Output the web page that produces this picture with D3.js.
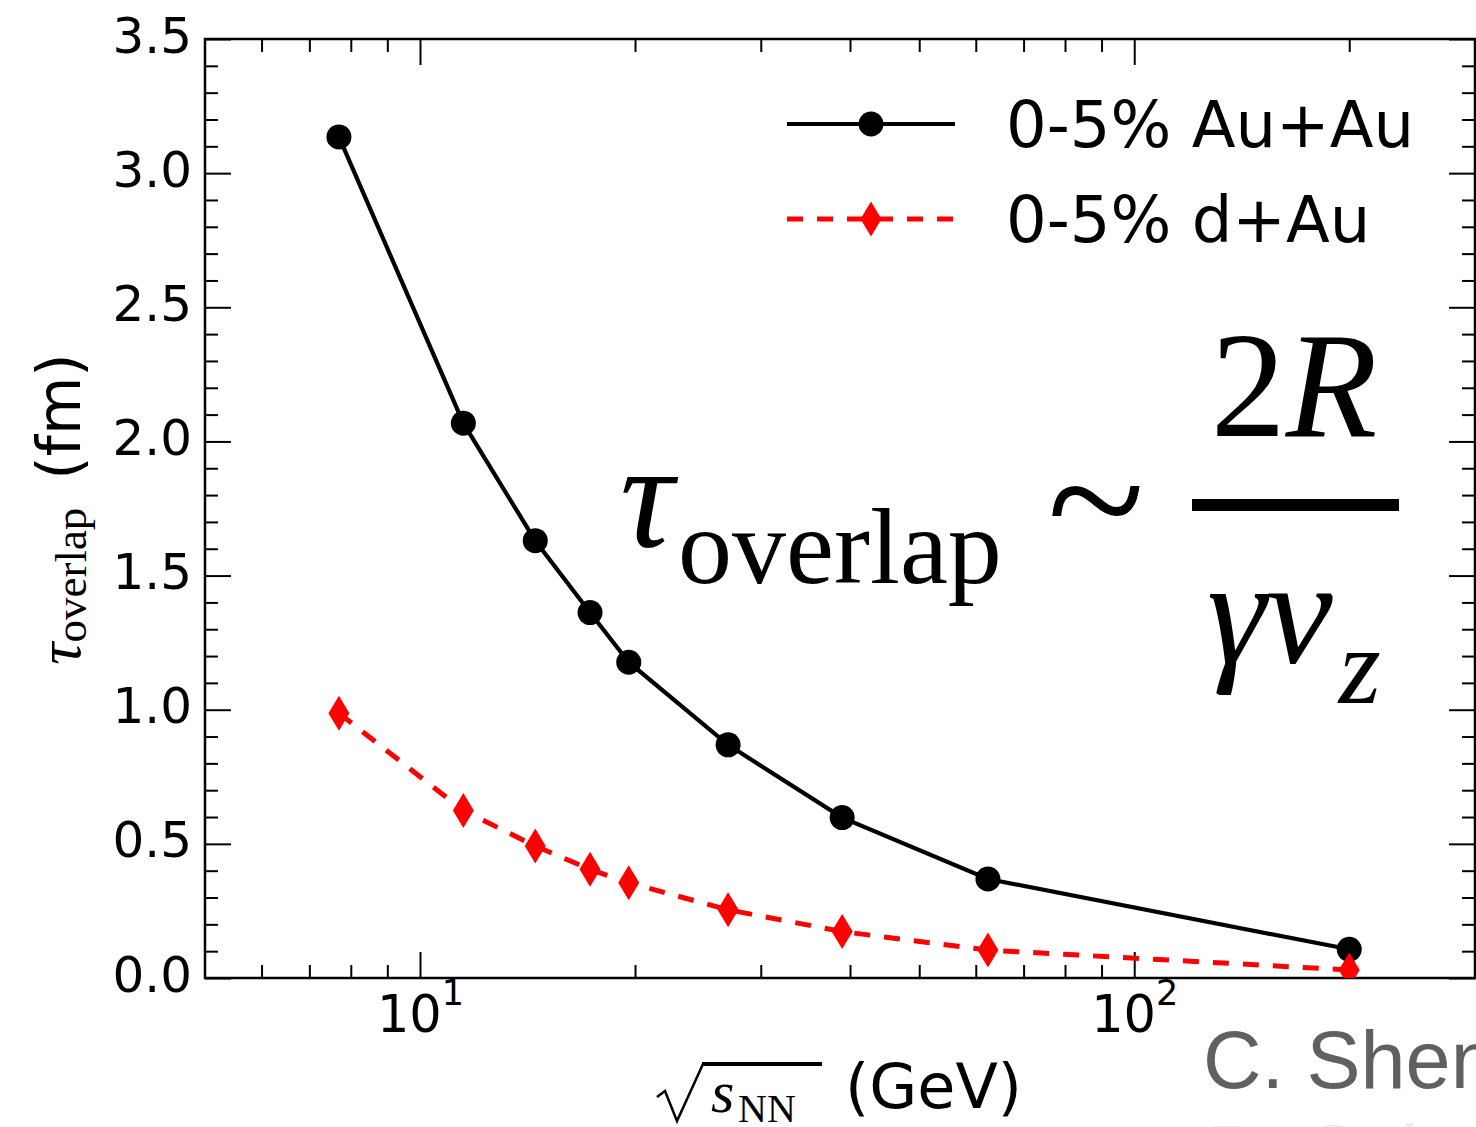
<!DOCTYPE html>
<html>
<head>
<meta charset="utf-8">
<script src="https://cdn.jsdelivr.net/npm/d3@7"></script>
<style>
  body { margin: 0; background: #fff; overflow: hidden; }
  svg { display: block; }
</style>
</head>
<body>
<svg id="chart"></svg>
<script>
// collision energies (GeV) and overlap times (fm)
const energies = [7.7, 11.5, 14.5, 17.3, 19.6, 27, 39, 62.4, 200];
const tauAuAu = [3.135, 2.068, 1.630, 1.362, 1.177, 0.869, 0.598, 0.369, 0.107];
const tauDAu = [0.987, 0.624, 0.492, 0.405, 0.355, 0.254, 0.173, 0.104, 0.03];
const seriesLabels = ["0-5% Au+Au", "0-5% d+Au"];
const yTicks = [0, 0.5, 1.0, 1.5, 2.0, 2.5, 3.0, 3.5];
const xMajorTicks = [10, 100];
const xTickExponents = ["1", "2"];
const xMinorTicks = [6, 7, 8, 9, 20, 30, 40, 50, 60, 70, 80, 90, 200];

const width = 1476, height = 1127;
const plotLeft = 205, plotRight = 1475, plotTop = 39, plotBottom = 978;

const sans = "'DejaVu Sans', sans-serif";
const serif = "'Liberation Serif', 'Times New Roman', serif";

const svg = d3.select("#chart")
    .attr("width", width)
    .attr("height", height)
    .style("font-family", sans);

const x = d3.scaleLog().domain([5, 300]).range([plotLeft, plotRight]);
const y = d3.scaleLinear().domain([0, 3.5]).range([plotBottom, plotTop]);

const yMinor = d3.range(0, 36).map(d => d / 10).filter(d => Math.round(d * 10) % 5 !== 0);

// axes - ticks inward on all four sides
function styleAxis(g) {
    g.attr("font-family", null);
    g.select(".domain").remove();
    g.selectAll(".tick line").attr("stroke", "#000").attr("stroke-width", 2);
}

svg.append("g")
    .attr("transform", `translate(0,${plotBottom})`)
    .call(d3.axisBottom(x).tickValues(xMajorTicks).tickSize(-26).tickFormat(() => ""))
    .call(styleAxis)
    .selectAll(".tick text")
    .each(function(d, i) {
        const t = d3.select(this)
            .attr("y", 54).attr("dy", null)
            .attr("fill", "#000")
            .style("font-size", "51px")
            .text("10");
        t.append("tspan")
            .style("font-size", "35px")
            .attr("dy", -27)
            .text(xTickExponents[i]);
    });

svg.append("g")
    .attr("transform", `translate(0,${plotBottom})`)
    .call(d3.axisBottom(x).tickValues(xMinorTicks).tickSize(-13).tickFormat(() => ""))
    .call(styleAxis);

svg.append("g")
    .attr("transform", `translate(0,${plotTop})`)
    .call(d3.axisTop(x).tickValues(xMajorTicks).tickSize(-26).tickFormat(() => ""))
    .call(styleAxis);

svg.append("g")
    .attr("transform", `translate(0,${plotTop})`)
    .call(d3.axisTop(x).tickValues(xMinorTicks).tickSize(-13).tickFormat(() => ""))
    .call(styleAxis);

svg.append("g")
    .attr("transform", `translate(${plotLeft},0)`)
    .call(d3.axisLeft(y).tickValues(yTicks).tickSize(-26).tickPadding(13).tickFormat(d3.format(".1f")))
    .call(styleAxis)
    .selectAll(".tick text")
    .style("font-size", "50px")
    .attr("fill", "#000")
    .attr("dy", "0.26em");

svg.append("g")
    .attr("transform", `translate(${plotLeft},0)`)
    .call(d3.axisLeft(y).tickValues(yMinor).tickSize(-13).tickFormat(() => ""))
    .call(styleAxis);

svg.append("g")
    .attr("transform", `translate(${plotRight},0)`)
    .call(d3.axisRight(y).tickValues(yTicks).tickSize(-26).tickFormat(() => ""))
    .call(styleAxis);

svg.append("g")
    .attr("transform", `translate(${plotRight},0)`)
    .call(d3.axisRight(y).tickValues(yMinor).tickSize(-13).tickFormat(() => ""))
    .call(styleAxis);

// frame
svg.append("rect")
    .attr("x", plotLeft).attr("y", plotTop)
    .attr("width", plotRight - plotLeft).attr("height", plotBottom - plotTop)
    .attr("fill", "none").attr("stroke", "#000").attr("stroke-width", 2.5);

// data
svg.append("clipPath").attr("id", "plot-clip")
    .append("rect")
    .attr("x", plotLeft).attr("y", plotTop)
    .attr("width", plotRight - plotLeft).attr("height", plotBottom - plotTop);

const plot = svg.append("g").attr("clip-path", "url(#plot-clip)");

const auau = energies.map((e, i) => [e, tauAuAu[i]]);
const dau = energies.map((e, i) => [e, tauDAu[i]]);

const line = d3.line().x(d => x(d[0])).y(d => y(d[1]));
const diamond = "M0,-17.5L10.5,0L0,17.5L-10.5,0Z";

plot.append("path")
    .datum(auau)
    .attr("d", line)
    .attr("fill", "none")
    .attr("stroke", "#000")
    .attr("stroke-width", 4.2);

plot.selectAll("circle.auau")
    .data(auau)
    .join("circle")
    .attr("class", "auau")
    .attr("cx", d => x(d[0]))
    .attr("cy", d => y(d[1]))
    .attr("r", 12.5)
    .attr("fill", "#000");

plot.append("path")
    .datum(dau)
    .attr("d", line)
    .attr("fill", "none")
    .attr("stroke", "#ff0000")
    .attr("stroke-width", 5)
    .attr("stroke-dasharray", "16,14");

plot.selectAll("path.dau")
    .data(dau)
    .join("path")
    .attr("class", "dau")
    .attr("d", diamond)
    .attr("transform", d => `translate(${x(d[0])},${y(d[1])})`)
    .attr("fill", "#ff0000");

// legend
const legend = svg.append("g");
const legendRows = [
    {label: seriesLabels[0], y: 124, color: "#000", dash: null, width: 4.2},
    {label: seriesLabels[1], y: 219, color: "#ff0000", dash: "16,14", width: 5}
];
legendRows.forEach((r, i) => {
    legend.append("line")
        .attr("x1", 787).attr("x2", 955)
        .attr("y1", r.y).attr("y2", r.y)
        .attr("stroke", r.color)
        .attr("stroke-width", r.width)
        .attr("stroke-dasharray", r.dash);
    if (i === 0) {
        legend.append("circle").attr("cx", 871).attr("cy", r.y).attr("r", 12.5).attr("fill", r.color);
    } else {
        legend.append("path").attr("d", diamond)
            .attr("transform", `translate(871,${r.y})`).attr("fill", r.color);
    }
    legend.append("text")
        .attr("x", 1006).attr("y", r.y + 23)
        .style("font-size", "64px")
        .attr("fill", "#000")
        .text(r.label);
});

// y label
const ylab = svg.append("text")
    .attr("transform", "translate(80,509) rotate(-90)")
    .attr("text-anchor", "middle")
    .attr("fill", "#000");
ylab.append("tspan").style("font-family", serif).style("font-style", "italic").style("font-size", "62px").text("τ");
ylab.append("tspan").style("font-family", serif).style("font-size", "45px").attr("dy", 6).text("overlap");
ylab.append("tspan").style("font-size", "60px").attr("dy", -6).attr("dx", 28).text("(fm)");

// x label
svg.append("path")
    .attr("d", "M657,1097 L665,1091 L677,1121 L703,1064")
    .attr("fill", "none").attr("stroke", "#000").attr("stroke-width", 2.5);
svg.append("rect")
    .attr("x", 702).attr("y", 1062).attr("width", 120).attr("height", 4).attr("fill", "#000");
svg.append("text")
    .attr("x", 711).attr("y", 1112)
    .style("font-family", serif).style("font-style", "italic").style("font-size", "60px")
    .text("s");
svg.append("text")
    .attr("x", 738).attr("y", 1122)
    .style("font-family", serif).style("font-size", "40px")
    .text("NN");
svg.append("text")
    .attr("x", 845).attr("y", 1108)
    .style("font-size", "62px")
    .text("(GeV)");

// formula annotation
const formula = svg.append("g").attr("fill", "#000").style("font-family", serif);
formula.append("text")
    .attr("x", 620).attr("y", 547)
    .style("font-style", "italic").style("font-size", "150px")
    .text("τ");
formula.append("text")
    .attr("x", 678).attr("y", 583)
    .style("font-size", "108px")
    .text("overlap");
formula.append("text")
    .attr("x", 1096).attr("y", 560)
    .attr("text-anchor", "middle")
    .style("font-size", "180px")
    .text("~");
formula.append("rect")
    .attr("x", 1192).attr("y", 499).attr("width", 207).attr("height", 12);
const num = formula.append("text")
    .attr("x", 1294).attr("y", 436)
    .attr("text-anchor", "middle")
    .style("font-size", "150px");
num.append("tspan").text("2");
num.append("tspan").style("font-style", "italic").text("R");
const den = formula.append("text")
    .attr("x", 1207).attr("y", 663)
    .style("font-size", "150px");
den.append("tspan").style("font-style", "italic").text("γv");
den.append("tspan").style("font-style", "italic").style("font-size", "108px").attr("dy", 40).attr("dx", 6).text("z");

// credit
const credit = svg.append("g").style("font-family", "'Liberation Sans', Arial, sans-serif");
credit.append("text")
    .attr("x", 1203).attr("y", 1088)
    .style("font-size", "81px")
    .attr("fill", "#606060")
    .text("C. Shen");
credit.append("text")
    .attr("x", 1207).attr("y", 1182)
    .style("font-size", "81px")
    .attr("fill", "#ececec")
    .text("B. Schenke");
</script>
</body>
</html>
